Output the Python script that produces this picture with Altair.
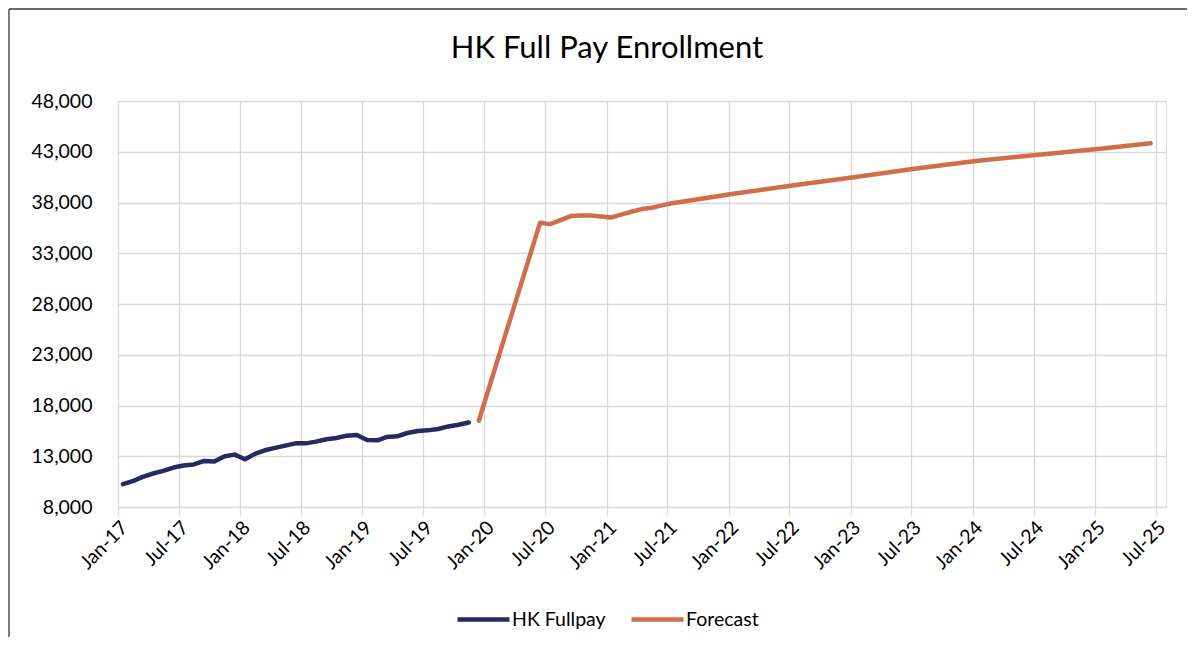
import altair as alt
import pandas as pd

# ---- data ----
hk_months = [
    "2017-01", "2017-02", "2017-03", "2017-04", "2017-05", "2017-06",
    "2017-07", "2017-08", "2017-09", "2017-10", "2017-11", "2017-12",
    "2018-01", "2018-02", "2018-03", "2018-04", "2018-05", "2018-06",
    "2018-07", "2018-08", "2018-09", "2018-10", "2018-11", "2018-12",
    "2019-01", "2019-02", "2019-03", "2019-04", "2019-05", "2019-06",
    "2019-07", "2019-08", "2019-09", "2019-10", "2019-11",
]
hk_values = [
    10250, 10580, 10970, 11300, 11560, 11890, 12090, 12190, 12540, 12480, 13000, 13160,
    12700, 13260, 13590, 13820, 14050, 14270, 14270, 14440, 14670, 14800, 15030, 15090,
    14600, 14570, 14900, 14960, 15290, 15480, 15550, 15680, 15940, 16110, 16330,
]

fc_months = [
    "2019-12", "2020-06", "2020-07", "2020-08", "2020-09", "2020-10", "2020-11",
    "2020-12", "2021-01", "2021-02", "2021-03", "2021-04", "2021-05", "2021-06",
    "2021-07", "2022-01", "2022-07", "2023-01", "2023-07", "2024-01", "2024-07",
    "2025-01", "2025-06",
]
fc_values = [
    16500, 36000, 35870, 36270, 36660, 36730, 36730,
    36630, 36530, 36830, 37090, 37350, 37480, 37720,
    37920, 38870, 39700, 40520, 41340, 42120, 42700,
    43290, 43830,
]

tick_years_months = [
    (2017, 1), (2017, 7), (2018, 1), (2018, 7), (2019, 1), (2019, 7),
    (2020, 1), (2020, 7), (2021, 1), (2021, 7), (2022, 1), (2022, 7),
    (2023, 1), (2023, 7), (2024, 1), (2024, 7), (2025, 1), (2025, 7),
]
y_ticks = [8000, 13000, 18000, 23000, 28000, 33000, 38000, 43000, 48000]

series_names = ["HK Fullpay", "Forecast"]
series_colors = ["#252A60", "#D06E4B"]
title_text = "HK Full Pay Enrollment"

rows = []
for m, v in zip(hk_months, hk_values):
    rows.append({"date": m + "-16T00:00:00", "value": v, "series": "HK Fullpay"})
for m, v in zip(fc_months, fc_values):
    rows.append({"date": m + "-16T00:00:00", "value": v, "series": "Forecast"})
df = pd.DataFrame(rows)

FONT = "Lato"
GRID = "#D9D9D9"

x_axis = alt.Axis(
    values=[alt.DateTime(year=y, month=m, date=1) for y, m in tick_years_months],
    format="%b-%y",
    labelAngle=-45,
    labelAlign="right",
    labelBaseline="top",
    labelFont=FONT,
    labelFontSize=19.5,
    labelColor="#000000",
    labelPadding=3,
    labelOverlap=False,
    labelFlush=False,
    grid=True,
    gridColor=GRID,
    gridWidth=1.3,
    domain=False,
    ticks=True,
    tickColor=GRID,
    tickWidth=1.3,
    tickSize=8,
    title=None,
)
y_axis = alt.Axis(
    values=y_ticks,
    format=",d",
    labelFont=FONT,
    labelFontSize=19.5,
    labelColor="#000000",
    labelPadding=26,
    grid=True,
    gridColor=GRID,
    gridWidth=1.3,
    domain=False,
    ticks=False,
    title=None,
)

x_scale = alt.Scale(
    domain=[alt.DateTime(year=2017, month=1, date=1), alt.DateTime(year=2025, month=8, date=1)]
)
y_scale = alt.Scale(domain=[8000, 48000], nice=False, zero=False)

lines = alt.Chart(df).mark_line(
    strokeWidth=4.5, strokeCap="round", strokeJoin="round"
).encode(
    x=alt.X("date:T", scale=x_scale, axis=x_axis),
    y=alt.Y("value:Q", scale=y_scale, axis=y_axis),
    color=alt.Color(
        "series:N",
        scale=alt.Scale(domain=series_names, range=series_colors),
        legend=alt.Legend(
            orient="none",
            legendX=337,
            legendY=490,
            direction="horizontal",
            title=None,
            symbolType="stroke",
            symbolSize=2704,
            symbolStrokeWidth=4.5,
            labelFont=FONT,
            labelFontSize=19.5,
            labelColor="#000000",
            labelOffset=0,
            columnPadding=16,
            padding=0,
        ),
    ),
    detail="series:N",
)

one = pd.DataFrame({"k": [0]})

frame_left = alt.Chart(one).mark_rule(color="#3A3A3A", strokeWidth=1.3).encode(
    x=alt.value(-109), y=alt.value(-92), y2=alt.value(536)
)
frame_top = alt.Chart(one).mark_rule(color="#3A3A3A", strokeWidth=1.3).encode(
    x=alt.value(-109), x2=alt.value(1069), y=alt.value(-92)
)

title = alt.Chart(one).mark_text(
    text=title_text,
    font=FONT,
    fontSize=31,
    fontWeight="normal",
    color="#000000",
    align="center",
    baseline="alphabetic",
).encode(x=alt.value(489), y=alt.value(-43))

chart = alt.layer(frame_left, frame_top, lines, title).properties(
    width=1048,
    height=406,
    autosize=alt.AutoSizeParams(type="none"),
    padding={"left": 110, "top": 93, "right": 21, "bottom": 130},
).configure_view(strokeWidth=0).configure(background="#FFFFFF")

chart.save("out.html", embed_options={"renderer": "svg", "actions": False})
